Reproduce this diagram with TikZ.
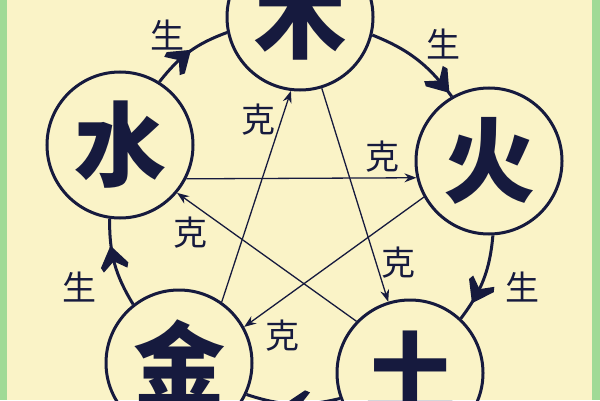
\documentclass[tikz,border=0pt]{standalone}
\usepackage{fontspec}
\newfontfamily\cjk{Noto Sans CJK SC}
\usetikzlibrary{arrows.meta,decorations.markings}
\definecolor{InkClr}{RGB}{22,26,62}
\definecolor{PaperClr}{RGB}{250,243,199}
\definecolor{EdgeClr}{RGB}{160,218,150}

\begin{document}
\begin{tikzpicture}[x=1bp,y=1bp,
  element/.style={circle,draw=InkClr,line width=3bp,minimum size=146bp,inner sep=0pt,
    text=InkClr,font=\cjk\bfseries\fontsize{92bp}{92bp}\selectfont},
  word/.style={text=InkClr,inner sep=0pt,font=\cjk\fontsize{34bp}{34bp}\selectfont},
  sheng/.style={draw=InkClr,line width=3bp,postaction={decorate},
    decoration={markings,mark=at position #1 with {\fill[InkClr] (11,0) -- (-9,14) -- (-14,12) -- (-5,0)
      -- (-14,-12) -- (-9,-14) -- cycle;}}},
  ke/.style={draw=InkClr,line width=1.3bp,-{Stealth[length=12bp,width=9bp]}}]

\fill[PaperClr] (0,0) rectangle (600,400);
\fill[EdgeClr] (0,0) rectangle (7,400);
\fill[EdgeClr] (592,0) rectangle (600,400);
\useasboundingbox (0,0) rectangle (600,400);

% the five elements
\node[element] (mu) at (300,383) {木};
\node[element] (huo) at (489,239) {火};
\node[element] (tu) at (410,27) {土};
\node[element] (jin) at (179,37) {金};
\node[element] (shui) at (120,255) {水};

% generating cycle
\draw[sheng=.85] (mu.-14) to[bend left=16] (huo.120);
\draw[sheng=.67] (huo.-87) to[bend left=16] (tu.47);
\draw[sheng=.47] (tu.200) to[bend left=16] (jin.-25);
\draw[sheng=.58] (jin.128) to[bend left=16] (shui.-98);
\draw[sheng=.4] (shui.58) to[bend left=16] (mu.-168);

% overcoming star
\draw[ke] (shui.-27) -- (huo.-167);
\draw[ke] (jin.55) -- (mu.-97);
\draw[ke] (mu.-73) -- (tu.107);
\draw[ke] (tu.136) -- (shui.-40);
\draw[ke] (huo.-151) -- (jin.29);

\node[word] (s1) at (167,365) {生};
\node[word] (s2) at (443,356) {生};
\node[word] (s3) at (522,113) {生};
\node[word] (s4) at (79,113) {生};

\node[word] (k1) at (258,280) {克};
\node[word] (k2) at (382,243) {克};
\node[word] (k3) at (190,167) {克};
\node[word] (k4) at (398,137) {克};
\node[word] (k5) at (282,64) {克};

\end{tikzpicture}
\end{document}
